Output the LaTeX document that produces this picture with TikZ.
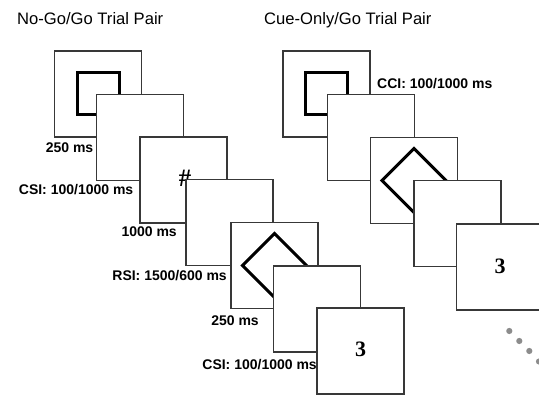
\documentclass[tikz,border=0pt]{standalone}
\usepackage{fontspec}
\setmainfont{Liberation Sans}
\newfontfamily\serifb{Liberation Serif}
\tikzset{
  screen/.style={draw=black!78, line width=1.2pt, fill=white, minimum width=87pt, minimum height=86pt, inner sep=0pt},
  cuebox/.style={draw=black, line width=3pt, minimum size=42pt, inner sep=0pt},
  lbl/.style={font=\fontsize{14}{14}\selectfont\bfseries, inner sep=0pt, anchor=base east},
  ttl/.style={font=\fontsize{16.6}{16.6}\selectfont, inner sep=0pt, anchor=base west},
  digit/.style={font=\fontsize{22}{22}\selectfont\serifb\bfseries, inner sep=0pt},
  dot/.style={circle, fill=black!45, inner sep=0pt, minimum size=6.2pt}
}
\begin{document}
\begin{tikzpicture}[x=1pt,y=-1pt]
\useasboundingbox (0,0) rectangle (539,395);
\clip (0,0) rectangle (539,395);
% titles
\node[ttl] (t1) at (17,25) {No-Go/Go Trial Pair};
\node[ttl] (t2) at (264,25) {Cue-Only/Go Trial Pair};
% left chain
\node[screen] (L1) at (98,94) {};
\node[cuebox] (L1c) at (L1) {};
\node[screen] (L2) at (140,137.5) {};
\node[screen] (L3) at (183.5,180) {};
\node[digit, font=\fontsize{25}{25}\selectfont\serifb\bfseries] (hash) at (185,178) {\#};
\node[screen] (L4) at (229.5,222.5) {};
\node[screen] (L5) at (274.5,265.5) {};
\draw[line width=3pt, line join=miter] ([yshift=32pt]L5.center) coordinate (d5t) -- ++(32,32) -- ++(-32,32) -- ++(-32,-32) -- cycle;
\node[screen] (L6) at (317,309) {};
\node[screen] (L7) at (360.5,351) {};
\node[digit] (n3a) at (360.5,349.5) {3};
% right chain
\node[screen] (R1) at (326.5,94) {};
\node[cuebox] (R1c) at (R1) {};
\node[screen] (R2) at (371,137.5) {};
\node[screen] (R3) at (414,180.5) {};
\draw[line width=3pt, line join=miter] ([yshift=32pt]R3.center) coordinate (d3t) -- ++(32,32) -- ++(-32,32) -- ++(-32,-32) -- cycle;
\node[screen] (R4) at (457.5,223.5) {};
\node[screen] (R5) at (500,267) {};
\node[digit] (n3b) at (500,266.5) {3};
% labels
\node[lbl] (a1) at (93.5,153) {250 ms};
\node[lbl] (a2) at (133.5,195) {CSI: 100/1000 ms};
\node[lbl] (a3) at (177,237) {1000 ms};
\node[lbl] (a4) at (227,281) {RSI: 1500/600 ms};
\node[lbl] (a5) at (259,326) {250 ms};
\node[lbl] (a6) at (317,369.5) {CSI: 100/1000 ms};
\node[lbl, anchor=base west] (b1) at (377,89) {CCI: 100/1000 ms};
% continuation dots
\node[dot] (p1) at (509.3,331) {};
\node[dot] (p2) at (519.3,341) {};
\node[dot] (p3) at (529.3,351) {};
\node[dot] (p4) at (539,361.5) {};
\end{tikzpicture}
\end{document}
